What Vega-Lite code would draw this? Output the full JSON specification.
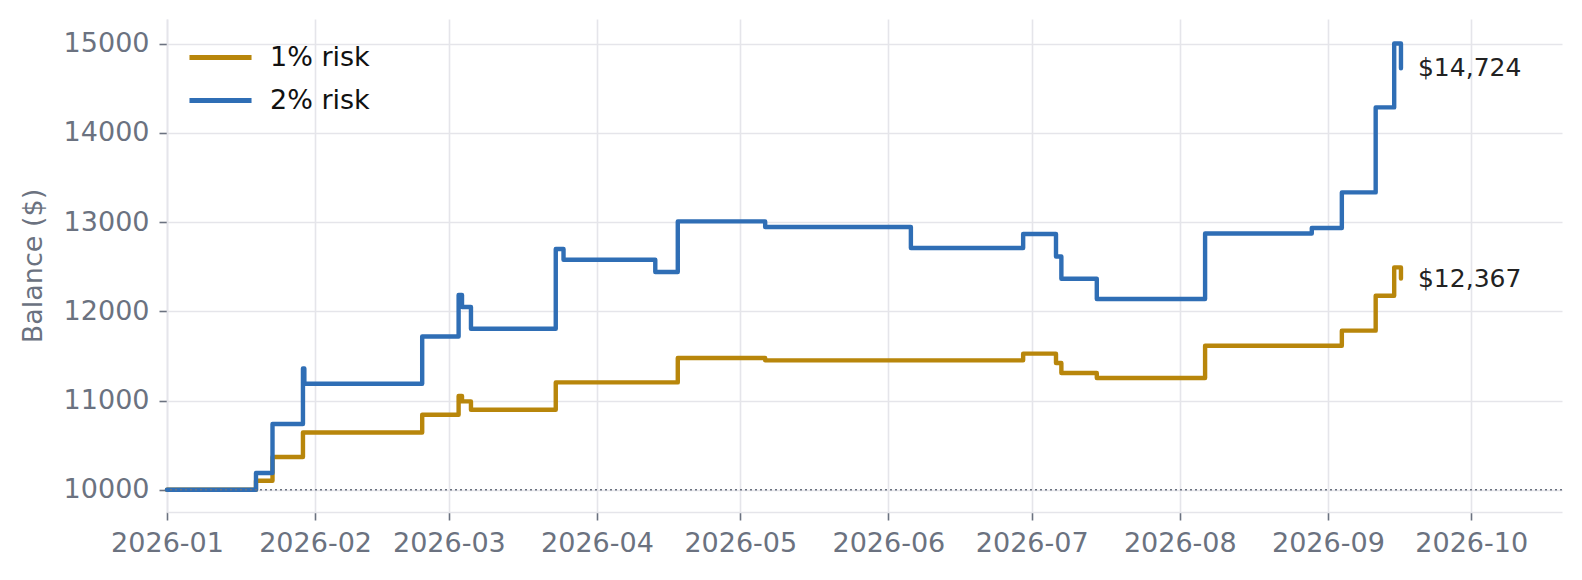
{
  "$schema": "https://vega.github.io/schema/vega-lite/v6.json",
  "width": 1395,
  "height": 493,
  "autosize": {"type": "none"},
  "padding": {"left": 167, "top": 19, "right": 20, "bottom": 68},
  "background": "white",
  "config": {
    "view": {"stroke": null},
    "font": "DejaVu Sans",
    "axis": {
      "labelFont": "DejaVu Sans",
      "labelFontSize": 27,
      "labelColor": "#6b7280",
      "tickColor": "#6b7280",
      "tickSize": 8,
      "tickWidth": 1.6,
      "gridColor": "#e5e5ea",
      "gridWidth": 1.6,
      "domainColor": "#e5e5ea",
      "domainWidth": 1.6,
      "labelPadding": 10
    }
  },
  "datasets": {
    "balance": [
      {"series": "1% risk", "time": "2026-01-01T00:00:00Z", "balance": 10000},
      {"series": "1% risk", "time": "2026-01-19T15:00:00Z", "balance": 10101},
      {"series": "1% risk", "time": "2026-01-23T02:00:00Z", "balance": 10367},
      {"series": "1% risk", "time": "2026-01-29T11:00:00Z", "balance": 10642},
      {"series": "1% risk", "time": "2026-02-23T10:00:00Z", "balance": 10841},
      {"series": "1% risk", "time": "2026-03-03T01:00:00Z", "balance": 11050},
      {"series": "1% risk", "time": "2026-03-03T18:00:00Z", "balance": 10990},
      {"series": "1% risk", "time": "2026-03-05T15:00:00Z", "balance": 10897},
      {"series": "1% risk", "time": "2026-03-23T09:00:00Z", "balance": 11203},
      {"series": "1% risk", "time": "2026-04-17T22:00:00Z", "balance": 11476},
      {"series": "1% risk", "time": "2026-05-06T05:00:00Z", "balance": 11450},
      {"series": "1% risk", "time": "2026-06-29T05:00:00Z", "balance": 11525},
      {"series": "1% risk", "time": "2026-07-06T02:00:00Z", "balance": 11420},
      {"series": "1% risk", "time": "2026-07-07T05:00:00Z", "balance": 11308},
      {"series": "1% risk", "time": "2026-07-14T15:00:00Z", "balance": 11252},
      {"series": "1% risk", "time": "2026-08-06T07:00:00Z", "balance": 11614},
      {"series": "1% risk", "time": "2026-09-03T22:00:00Z", "balance": 11783},
      {"series": "1% risk", "time": "2026-09-11T00:00:00Z", "balance": 12175},
      {"series": "1% risk", "time": "2026-09-14T21:00:00Z", "balance": 12492},
      {"series": "1% risk", "time": "2026-09-16T07:00:00Z", "balance": 12367},
      {"series": "2% risk", "time": "2026-01-01T00:00:00Z", "balance": 10000},
      {"series": "2% risk", "time": "2026-01-19T15:00:00Z", "balance": 10187},
      {"series": "2% risk", "time": "2026-01-23T02:00:00Z", "balance": 10737},
      {"series": "2% risk", "time": "2026-01-29T11:00:00Z", "balance": 11360},
      {"series": "2% risk", "time": "2026-01-29T18:00:00Z", "balance": 11188},
      {"series": "2% risk", "time": "2026-02-23T10:00:00Z", "balance": 11718},
      {"series": "2% risk", "time": "2026-03-03T01:00:00Z", "balance": 12183},
      {"series": "2% risk", "time": "2026-03-03T18:00:00Z", "balance": 12048},
      {"series": "2% risk", "time": "2026-03-05T15:00:00Z", "balance": 11805},
      {"series": "2% risk", "time": "2026-03-23T09:00:00Z", "balance": 12698},
      {"series": "2% risk", "time": "2026-03-25T00:00:00Z", "balance": 12578},
      {"series": "2% risk", "time": "2026-04-13T05:00:00Z", "balance": 12440},
      {"series": "2% risk", "time": "2026-04-17T22:00:00Z", "balance": 13008},
      {"series": "2% risk", "time": "2026-05-06T05:00:00Z", "balance": 12945},
      {"series": "2% risk", "time": "2026-06-05T17:00:00Z", "balance": 12710},
      {"series": "2% risk", "time": "2026-06-29T05:00:00Z", "balance": 12866},
      {"series": "2% risk", "time": "2026-07-06T02:00:00Z", "balance": 12615},
      {"series": "2% risk", "time": "2026-07-07T05:00:00Z", "balance": 12365},
      {"series": "2% risk", "time": "2026-07-14T15:00:00Z", "balance": 12138},
      {"series": "2% risk", "time": "2026-08-06T07:00:00Z", "balance": 12873},
      {"series": "2% risk", "time": "2026-08-28T15:00:00Z", "balance": 12934},
      {"series": "2% risk", "time": "2026-09-03T22:00:00Z", "balance": 13333},
      {"series": "2% risk", "time": "2026-09-11T00:00:00Z", "balance": 14286},
      {"series": "2% risk", "time": "2026-09-14T21:00:00Z", "balance": 15003},
      {"series": "2% risk", "time": "2026-09-16T07:00:00Z", "balance": 14724}
    ],
    "start": [{"level": 10000}]
  },
  "layer": [
    {
      "data": {"name": "balance", "format": {"parse": {"time": "date"}}},
      "mark": {"type": "line", "interpolate": "step-after", "strokeWidth": 4.4, "strokeCap": "round", "strokeJoin": "round"},
      "encoding": {
        "x": {
          "field": "time",
          "type": "temporal",
          "scale": {
            "type": "utc",
            "domain": [
              {"year": 2026, "month": 1, "date": 1, "utc": true},
              {"year": 2026, "month": 10, "date": 20, "utc": true}
            ]
          },
          "axis": {
            "title": null,
            "labelExpr": "utcFormat(datum.value, '%Y-%m')",
            "tickCount": {"interval": "month", "step": 1},
            "labelFlush": false,
            "labelOverlap": false
          }
        },
        "y": {
          "field": "balance",
          "type": "quantitative",
          "scale": {"domain": [9750, 15277], "nice": false, "zero": false},
          "axis": {
            "title": "Balance ($)",
            "titleFont": "DejaVu Sans",
            "titleFontSize": 27,
            "titleFontWeight": "normal",
            "titleColor": "#6b7280",
            "titlePadding": 16,
            "values": [10000, 11000, 12000, 13000, 14000, 15000],
            "format": "d"
          }
        },
        "color": {
          "field": "series",
          "type": "nominal",
          "scale": {"domain": ["1% risk", "2% risk"], "range": ["#b8860b", "#2f6eb5"]},
          "legend": {
            "title": null,
            "orient": "none",
            "legendX": 40,
            "legendY": 25,
            "padding": 0,
            "symbolType": "M-3,0H3",
            "symbolSize": 428,
            "symbolStrokeWidth": 5,
            "labelFont": "DejaVu Sans",
            "labelFontSize": 27,
            "labelColor": "#111111",
            "labelOffset": 36,
            "rowPadding": 15
          }
        }
      }
    },
    {
      "data": {"name": "start"},
      "mark": {"type": "rule", "strokeDash": [2, 3], "color": "#6b7280", "strokeWidth": 1.5},
      "encoding": {
        "y": {"field": "level", "type": "quantitative"}
      }
    },
    {
      "data": {"name": "balance", "format": {"parse": {"time": "date"}}},
      "transform": [
        {"joinaggregate": [{"op": "max", "field": "time", "as": "last"}], "groupby": ["series"]},
        {"filter": "time(datum.time) == time(datum.last)"}
      ],
      "mark": {"type": "text", "align": "left", "baseline": "middle", "dx": 17, "fontSize": 25, "font": "DejaVu Sans", "color": "#222222"},
      "encoding": {
        "x": {
          "field": "time",
          "type": "temporal",
          "axis": {
            "title": null,
            "labelExpr": "utcFormat(datum.value, '%Y-%m')",
            "tickCount": {"interval": "month", "step": 1},
            "labelFlush": false,
            "labelOverlap": false
          }
        },
        "y": {"field": "balance", "type": "quantitative"},
        "text": {"field": "balance", "type": "quantitative", "format": "$,.0f"}
      }
    }
  ]
}
